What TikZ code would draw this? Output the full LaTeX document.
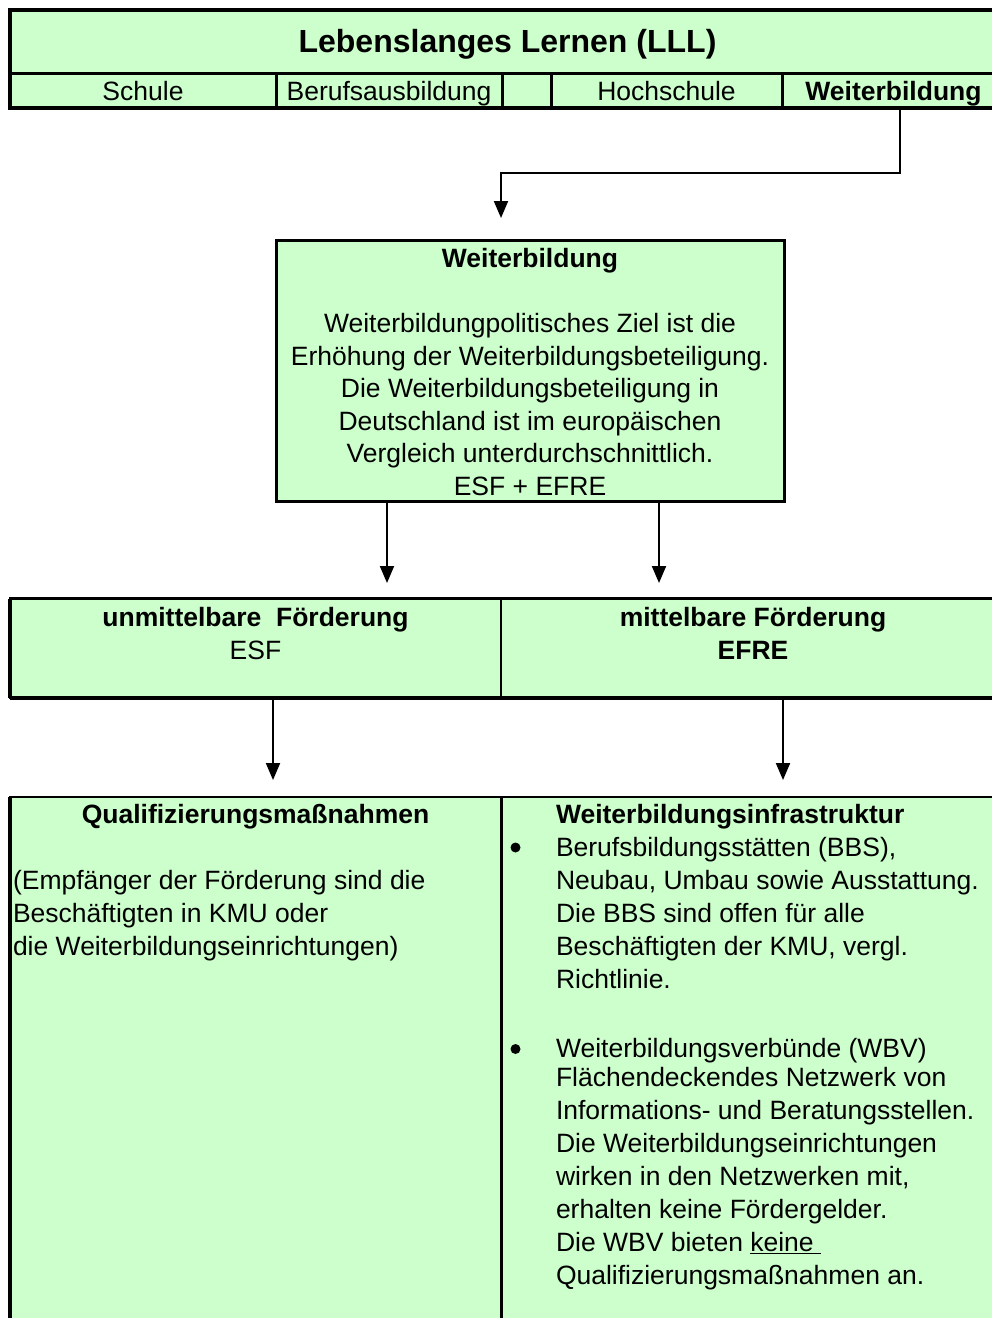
\documentclass[tikz,border=0pt]{standalone}
\usepackage{fontspec}
\setmainfont{Liberation Sans}
\usetikzlibrary{arrows.meta}
\definecolor{lgreen}{RGB}{204,255,204}
\newcommand{\bodyfont}{\fontsize{26.5}{33}\selectfont}
\newcommand{\midfont}{\fontsize{26.5}{32.5}\selectfont}
\newcommand{\headfont}{\fontsize{32}{38}\selectfont\bfseries}

\begin{document}
\begin{tikzpicture}[x=1pt,y=-1pt,
  panel/.style={draw, fill=lgreen, inner sep=0pt, outer sep=0pt, anchor=north west},
  rowcell/.style={panel, line width=3pt, minimum height=35pt, font=\bodyfont,
                  text height=19pt, text depth=0pt},
  txt/.style={inner sep=0pt, outer sep=0pt},
  dot/.style={circle, fill=black, inner sep=0pt, minimum size=10pt},
  conn/.style={line width=2pt, -{Triangle[width=14pt,length=17pt]}},
]
\useasboundingbox (0,0) rectangle (992,1318);
\clip (0,0) rectangle (992,1318);

% ---- Lebenslanges Lernen header with its five columns ----
\node[panel, line width=3pt, minimum width=995pt, minimum height=63.5pt,
      font=\headfont, text height=23pt, text depth=0pt] (lll) at (10,9.5)
      {Lebenslanges Lernen (LLL)};
\node[rowcell, minimum width=266pt] (schule)  at (10,73)  {Schule};
\node[rowcell, minimum width=226pt] (beruf)   at (276,73) {Berufsausbildung};
\node[rowcell, minimum width=49pt]  (leer)    at (502,73) {};
\node[rowcell, minimum width=231pt] (hoch)    at (551,73) {Hochschule};
\node[rowcell, minimum width=223pt, font=\bodyfont\bfseries] (wbcell) at (782,73) {Weiterbildung};
\draw[line width=4pt] (lll.north west) rectangle (wbcell.south east);

% ---- Weiterbildung box ----
\node[panel, line width=3pt, minimum width=508pt, minimum height=261pt] (mid) at (276,240.5) {};
\node[txt, anchor=north, align=center, font=\midfont] (midtxt) at (530,244.75)
  {\strut\textbf{Weiterbildung}\\
   \strut\\
   Weiterbildungpolitisches Ziel ist die\\
   Erhöhung der Weiterbildungsbeteiligung.\\
   Die Weiterbildungsbeteiligung in\\
   Deutschland ist im europäischen\\
   Vergleich unterdurchschnittlich.\\
   ESF + EFRE};

% ---- Förderung row ----
\node[panel, line width=2.5pt, minimum width=491pt, minimum height=99.5pt] (unm) at (10,598.5) {};
\node[panel, line width=2.5pt, minimum width=504pt, minimum height=99.5pt] (mit) at (501,598.5) {};
\draw[line width=4pt] (unm.south west) -- (mit.south east);
\draw[line width=4pt] (unm.north west) -- (unm.south west);
\node[txt, anchor=north, align=center, font=\midfont] (unmtxt) at (255.5,603.75)
  {\strut\textbf{unmittelbare~~Förderung}\\ESF};
\node[txt, anchor=north, align=center, font=\midfont] (mittxt) at (753,603.75)
  {\strut\textbf{mittelbare Förderung}\\\textbf{EFRE}};

% ---- bottom columns ----
\node[panel, line width=2.5pt, minimum width=491pt, minimum height=600pt] (quali) at (10,797) {};
\node[panel, line width=2.5pt, minimum width=504pt, minimum height=600pt] (infra) at (501,797) {};
\draw[line width=4pt] (quali.north west) -- (quali.south west);
\draw[line width=3pt] (quali.north east) -- (quali.south east);

\node[txt, anchor=base, font=\bodyfont\bfseries] (qualihead) at (255.5,823.5)
  {Qualifizierungsmaßnahmen};
\node[txt, anchor=north west, align=left, font=\bodyfont] (qualitxt) at (13,866.4)
  {\strut(Empfänger der Förderung sind die\\
   Beschäftigten in KMU oder\\
   die Weiterbildungseinrichtungen)};

\node[txt, anchor=north west, align=left, font=\bodyfont] (infratxt) at (556,800.4)
  {\strut\textbf{Weiterbildungsinfrastruktur}\\
   Berufsbildungsstätten (BBS),\\
   Neubau, Umbau sowie Ausstattung.\\
   Die BBS sind offen für alle\\
   Beschäftigten der KMU, vergl.\\
   Richtlinie.\\
   \strut\\[3pt]
   Weiterbildungsverbünde (WBV)\\[-4pt]
   Flächendeckendes Netzwerk von\\
   Informations- und Beratungsstellen.\\
   Die Weiterbildungseinrichtungen\\
   wirken in den Netzwerken mit,\\
   erhalten keine Fördergelder.\\
   Die WBV bieten \underline{keine\ }\\
   Qualifizierungsmaßnahmen an.};
\node[dot] (bul1) at (515.5,847.5) {};
\node[dot] (bul2) at (515.5,1049) {};

% ---- connectors ----
\coordinate (knee) at (501,173);
\coordinate (tipA) at (501,218);
\draw[conn] ([xshift=6.5pt]wbcell.south) |- (knee) -- (tipA);

\coordinate (tipB) at (387,583);
\coordinate (tipC) at (659,583);
\draw[conn] (mid.south -| tipB) -- (tipB);
\draw[conn] (mid.south -| tipC) -- (tipC);

\coordinate (tipD) at (273,780);
\coordinate (tipE) at (783,780);
\draw[conn] (unm.south -| tipD) -- (tipD);
\draw[conn] (mit.south -| tipE) -- (tipE);
\end{tikzpicture}
\end{document}
